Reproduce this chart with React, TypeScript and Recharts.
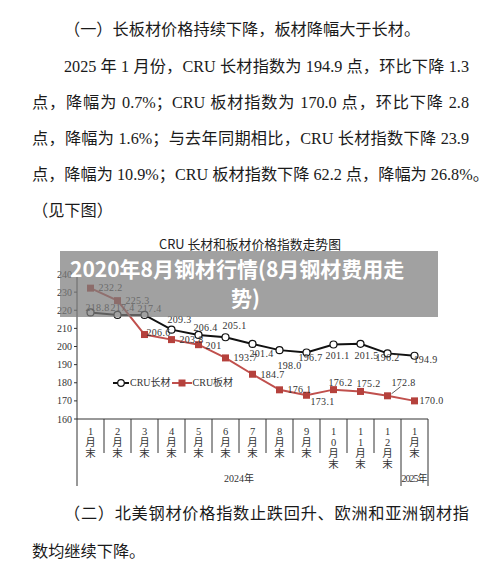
import React from 'react';
import { LineChart, Line, XAxis, YAxis, LabelList } from 'recharts';

const months = ['1月末', '2月末', '3月末', '4月末', '5月末', '6月末', '7月末', '8月末', '9月末', '10月末', '11月末', '12月末', '1月末'];
const longSteel = [218.8, 217.4, 217.4, 209.3, 206.4, 205.1, 201.4, 198.0, 196.7, 201.1, 201.5, 196.2, 194.9];
const plateSteel = [232.2, 225.3, 206.6, 203.8, 201, 193.7, 184.7, 176.1, 173.1, 176.2, 175.2, 172.8, 170.0];
const plateNoDecimal = [4];
const yTicks = [160, 170, 180, 190, 200, 210, 220, 230, 240];
const years = ['2024年', '2025年'];
const seriesNames = ['CRU长材', 'CRU板材'];

const textTop = [
  '（一）长板材价格持续下降，板材降幅大于长材。',
  '2025 年 1 月份，CRU 长材指数为 194.9 点，环比下降 1.3',
  '点，降幅为 0.7%；CRU 板材指数为 170.0 点，环比下降 2.8',
  '点，降幅为 1.6%；与去年同期相比，CRU 长材指数下降 23.9',
  '点，降幅为 10.9%；CRU 板材指数下降 62.2 点，降幅为 26.8%。',
  '（见下图）',
];
const textBottom = ['（二）北美钢材价格指数止跌回升、欧洲和亚洲钢材指', '数均继续下降。'];

const data = months.map((m, i) => ({ m, long: longSteel[i], plate: plateSteel[i] }));

// label offsets (text centre relative to the point)
const longOff = [[7, -5], [5, -7], [5, -6], [8, -10], [7, -7], [9, -12], [9, 10], [10, 15], [4, 5], [4, 11], [6, 12], [0, 4], [11, 4]];
const plateOff = [[20, -1], [20, 0], [14, -2], [20, 0], [15, 1], [20, 0], [20, 0], [20, 0], [16, 6], [7, -7], [8, -8], [16, -13], [17, 0]];

const BLACK = '#111';
const RED = '#c0504d';
const RED_MK = '#b5413c';
const SERIF = '"Liberation Serif", "Noto Sans CJK SC", serif';
const CJK = '"Noto Sans CJK SC", sans-serif';

const PLOT_L = 77;
const PLOT_R = 428;
const STEP = (PLOT_R - PLOT_L) / months.length;

function MonthTick(props: any) {
  const { x, y, payload, index } = props;
  const chars = Array.from(String(payload.value));
  const left = x - STEP / 2;
  const last = index === months.length - 1;
  return (
    <g>
      {index > 0 && <line x1={left} x2={left} y1={y} y2={last ? y + 67 : y + 34} stroke="#333" strokeWidth={1} />}
      {index === 0 && <line x1={left} x2={left} y1={y} y2={y + 67} stroke="#333" strokeWidth={1} />}
      {last && <line x1={x + STEP / 2} x2={x + STEP / 2} y1={y} y2={y + 67} stroke="#333" strokeWidth={1} />}
      {chars.map((c, i) => (
        <text key={i} x={x} y={y + 12 + i * 11.3} textAnchor="middle" dominantBaseline="central"
          fontSize={10.5} fontFamily={SERIF} fill="#333">{c}</text>
      ))}
      {index === 0 && (
        <text x={left + (STEP * (months.length - 1)) / 2} y={y + 59} textAnchor="middle" dominantBaseline="central"
          fontSize={10} fontFamily={SERIF} fill="#333">{years[0]}</text>
      )}
      {last && (
        <text x={x} y={y + 59} textAnchor="middle" dominantBaseline="central"
          fontSize={10} fontFamily={SERIF} fill="#333" textLength={STEP - 1}>{years[1]}</text>
      )}
    </g>
  );
}

function makeLabel(off: number[][], fmt: (v: number, i: number) => string, leader?: number) {
  return (p: any) => {
    const { x, y, value, index } = p;
    const [dx, dy] = off[index] || [0, 0];
    return (
      <g>
        {leader === index && <line x1={x + 4} y1={y - 2} x2={x + 13} y2={y - 9} stroke="#333" strokeWidth={0.8} />}
        <text x={x + dx} y={y + dy} textAnchor="middle" dominantBaseline="central" fontSize={10}
          fontFamily={SERIF} fill="#333" letterSpacing={0.3}>{fmt(value, index)}</text>
      </g>
    );
  };
}

function ChartLegend() {
  const txt: React.CSSProperties = { fontSize: 10, fontFamily: SERIF, color: '#333', lineHeight: '14px' };
  return (
    <div style={{ position: 'absolute', left: 112, top: 376, display: 'flex', alignItems: 'center', whiteSpace: 'nowrap' }}>
      <svg width={18} height={14}>
        <line x1={1} x2={17} y1={7} y2={7} stroke={BLACK} strokeWidth={2} />
        <circle cx={9} cy={7} r={3.3} fill="#fff" stroke={BLACK} strokeWidth={1.2} />
      </svg>
      <span style={txt}>{seriesNames[0]}</span>
      <svg width={22} height={14}>
        <line x1={1} x2={21} y1={7} y2={7} stroke={RED} strokeWidth={2} />
        <rect x={7.5} y={3.5} width={7} height={7} fill={RED_MK} />
      </svg>
      <span style={txt}>{seriesNames[1]}</span>
    </div>
  );
}

const lineStyle = (top: number, left: number, width: number, justify: boolean): React.CSSProperties => ({
  position: 'absolute', top: top - 11, left, width, height: 22, lineHeight: '22px',
  fontSize: 16.2, fontFamily: SERIF, color: '#1a1a1a', whiteSpace: 'nowrap',
  textAlign: justify ? 'justify' : 'left', textAlignLast: justify ? 'justify' : 'left',
});

export default function App() {
  const topY = [30, 67, 103, 139, 175, 211];
  const topX = [64, 64, 32, 32, 32, 32];
  return (
    <div style={{ position: 'absolute', left: 0, top: 0, width: 500, height: 569, background: '#fff', overflow: 'hidden' }}>
      {textTop.map((t, i) => (
        <div key={i} style={lineStyle(topY[i], topX[i], 469 - topX[i], i >= 1 && i <= 4)}>{t}</div>
      ))}
      {textBottom.map((t, i) => (
        <div key={'b' + i} style={lineStyle([514, 552][i], [64, 32][i], 469 - [64, 32][i], i === 0)}>{t}</div>
      ))}
      <div style={{ position: 'absolute', top: 235, left: 0, width: 500, textAlign: 'center', fontSize: 12.8, fontFamily: CJK, color: '#222', lineHeight: '18px' }}>
        CRU 长材和板材价格指数走势图
      </div>
      <div style={{ position: 'absolute', top: 0, left: 0 }}>
        <LineChart width={500} height={569} data={data} margin={{ top: 274, right: 500 - PLOT_R, bottom: 80, left: PLOT_L - 25 }}>
          <XAxis dataKey="m" interval={0} tick={<MonthTick />} tickLine={false} tickSize={0} tickMargin={0}
            height={70} padding={{ left: STEP / 2, right: STEP / 2 }} axisLine={{ stroke: '#333' }} />
          <YAxis domain={[160, 240]} ticks={yTicks} width={25} tickSize={3} tickMargin={2}
            tick={{ fontSize: 10, fontFamily: SERIF, fill: '#333' }} axisLine={{ stroke: '#333' }} tickLine={{ stroke: '#333' }} />
          <Line dataKey="long" stroke={BLACK} strokeWidth={2} isAnimationActive={false}
            dot={(p: any) => <circle key={p.index} cx={p.cx} cy={p.cy} r={3.5} fill="#fff" stroke={BLACK} strokeWidth={1.2} />}>
            <LabelList dataKey="long" content={makeLabel(longOff, (v) => v.toFixed(1))} />
          </Line>
          <Line dataKey="plate" stroke={RED} strokeWidth={2} isAnimationActive={false}
            dot={(p: any) => <rect key={p.index} x={p.cx - 3.5} y={p.cy - 3.5} width={7} height={7} fill={RED_MK} />}>
            <LabelList dataKey="plate" content={makeLabel(plateOff, (v, i) => (plateNoDecimal.includes(i) ? String(v) : v.toFixed(1)), 11)} />
          </Line>
        </LineChart>
      </div>
      <ChartLegend />
      <div style={{ position: 'absolute', left: 60, top: 251, width: 378, height: 66, background: 'rgba(125,125,125,0.72)' }} />
      <div style={{ position: 'absolute', left: 70, top: 254, fontSize: 21, fontWeight: 700, fontFamily: CJK, color: '#fff', lineHeight: '28px', whiteSpace: 'nowrap' }}>
        2020年8月钢材行情(8月钢材费用走
      </div>
      <div style={{ position: 'absolute', left: 231, top: 283, fontSize: 21, fontWeight: 700, fontFamily: CJK, color: '#fff', lineHeight: '28px', whiteSpace: 'nowrap' }}>
        势)
      </div>
    </div>
  );
}
